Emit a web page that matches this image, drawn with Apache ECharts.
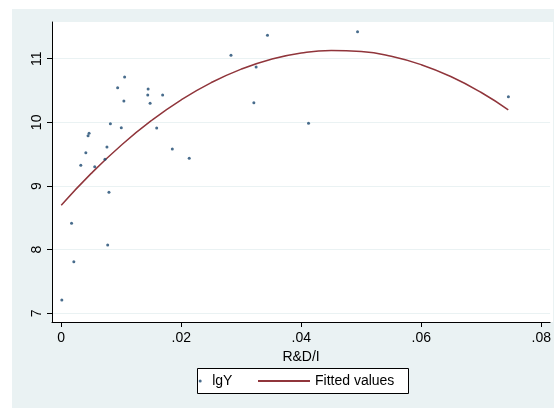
<!DOCTYPE html>
<html>
<head>
<meta charset="utf-8">
<script src="https://cdn.jsdelivr.net/npm/echarts@6/dist/echarts.min.js"></script>
<style>
html,body{margin:0;padding:0;background:#fff;}
#c{width:554px;height:408px;}
</style>
</head>
<body>
<div id="c"></div>
<script>
// Scatter data: R&D/I (x) vs lgY (y)
const pointX = [0.0001,0.00172,0.0021,0.00326,0.0041,0.00447,0.00464,0.00558,0.00729,0.00762,0.00819,0.00795,0.00774,0.0094,0.01001,0.01044,0.01056,0.01442,0.01448,0.01481,0.01591,0.0169,0.01851,0.02133,0.02829,0.0321,0.03248,0.03437,0.04121,0.04938,0.07452];
const pointY = [7.21,8.414,7.81,9.325,9.523,9.79,9.828,9.303,9.42,9.613,9.979,8.901,8.073,10.544,9.916,10.335,10.712,10.43,10.524,10.30,9.911,10.43,9.581,9.435,11.053,10.309,10.87,11.368,9.985,11.424,10.403];
// Fitted values curve
const fitX = [0,0.005,0.01,0.015,0.02,0.025,0.03,0.035,0.04,0.045,0.05,0.055,0.06,0.065,0.07,0.0745];
const fitY = [8.698,9.198,9.641,10.026,10.354,10.624,10.837,10.992,11.090,11.130,11.113,11.038,10.906,10.716,10.469,10.197];
// Ticks
const xTicks = [0,0.02,0.04,0.06,0.08];
const xTickLabels = ['0','.02','.04','.06','.08'];
const yTicks = [7,8,9,10,11];
const yTickLabels = ['7','8','9','10','11'];

const FONT = '"Liberation Sans", Arial, Helvetica, sans-serif';
const chart = echarts.init(document.getElementById('c'), null, {renderer:'canvas'});

function lab(v, ticks, labels){
  for (let i=0;i<ticks.length;i++){ if (Math.abs(ticks[i]-v)<1e-9) return labels[i]; }
  return '';
}

chart.setOption({
  backgroundColor:'#ffffff',
  animation:false,
  graphic:[
    {type:'rect', z:-10, shape:{x:12,y:9,width:542,height:399}, style:{fill:'#EAF2F3'}},
    {type:'rect', z:-5, shape:{x:52,y:22,width:501,height:300}, style:{fill:'#ffffff'}},
    {type:'rect', z:5, shape:{x:197.5,y:368.5,width:211,height:25}, style:{fill:'#ffffff', stroke:'#000000', lineWidth:1}}
  ],
  grid:{left:52, top:22, right:1, bottom:86, show:false},
  xAxis:{
    type:'value', min:-0.00154, max:0.08147,
    name:'R&D/I', nameLocation:'middle', nameGap:23,
    nameTextStyle:{color:'#000', fontSize:14, fontFamily:FONT},
    axisLine:{show:true, onZero:false, lineStyle:{color:'#000', width:1}},
    axisTick:{show:true, length:5, customValues:xTicks, lineStyle:{color:'#000'}},
    axisLabel:{show:true, customValues:xTicks, margin:9, color:'#000', fontSize:14, fontFamily:FONT,
      formatter:(v)=>lab(v,xTicks,xTickLabels)},
    splitLine:{show:false}
  },
  yAxis:{
    type:'value', min:6.863, max:11.577,
    axisLine:{show:true, onZero:false, lineStyle:{color:'#000', width:1}},
    axisTick:{show:true, length:5, customValues:yTicks, lineStyle:{color:'#000'}},
    axisLabel:{show:true, customValues:yTicks, rotate:90, margin:8, color:'#000', fontSize:14, fontFamily:FONT,
      formatter:(v)=>lab(v,yTicks,yTickLabels)},
    splitLine:{show:false}
  },
  legend:[
    {data:['lgY'], left:198.7, top:374, orient:'horizontal', itemWidth:14, itemHeight:3, icon:'circle',
      textStyle:{color:'#000', fontSize:14, fontFamily:FONT}, padding:0, z:10},
    {data:[{name:'Fitted values', icon:'rect'}], left:258, top:374, itemWidth:52, itemHeight:2,
      textStyle:{color:'#000', fontSize:14, fontFamily:FONT}, padding:0, z:10}
  ],
  series:[
    {type:'scatter', name:'_grid', data:[], z:0, silent:true,
      markLine:{silent:true, z:0, symbol:['none','none'], label:{show:false},
        lineStyle:{color:'#EAF2F3', type:'solid', width:1},
        data: yTicks.map(v=>({yAxis:v}))}},
    {type:'scatter', name:'lgY', z:3, symbol:'circle', symbolSize:3,
      itemStyle:{color:'#1A476F'},
      data: pointX.map((x,i)=>[x,pointY[i]])},
    {type:'line', name:'Fitted values', z:2, smooth:true, showSymbol:false, symbol:'none',
      lineStyle:{color:'#90353B', width:1.5}, itemStyle:{color:'#90353B'},
      data: fitX.map((x,i)=>[x,fitY[i]])}
  ]
});
</script>
</body>
</html>
